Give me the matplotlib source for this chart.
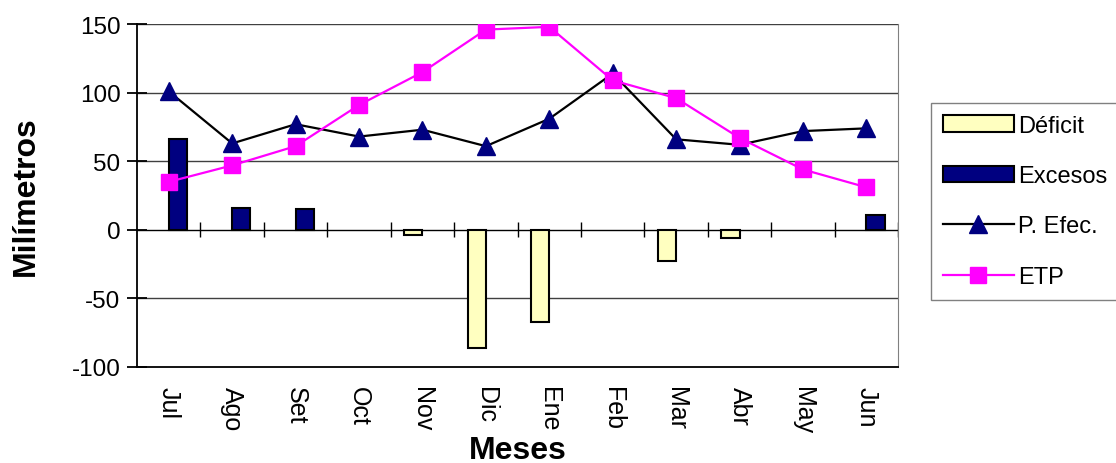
import matplotlib
matplotlib.use("Agg")
import matplotlib.pyplot as plt
import numpy as np

plt.rcParams['font.family'] = ['Liberation Sans', 'DejaVu Sans']
plt.rcParams['axes.unicode_minus'] = False

# data (None = no bar that month)
meses = ["Jul", "Ago", "Set", "Oct", "Nov", "Dic", "Ene", "Feb", "Mar", "Abr", "May", "Jun"]
deficit = [None, None, None, None, -4, -86, -67, None, -23, -6, None, None]
excesos = [66, 16, 15, None, None, None, None, None, None, None, None, 11]
p_efec = [101, 63, 77, 68, 73, 61, 81, 114, 66, 62, 72, 74]
etp = [35, 47, 61, 91, 115, 146, 148, 109, 96, 67, 44, 31]

x = np.arange(len(meses))
width = 1 / 3.5
deficit_v = np.array(deficit, dtype=float)
excesos_v = np.array(excesos, dtype=float)

fig = plt.figure(figsize=(11.16, 4.64), dpi=100)
ax = fig.add_axes([0.1228, 0.2069, 0.682, 0.739])

# grid lines
for v in [150, 100, 50, -50]:
    ax.axhline(v, color='#404040', lw=1, zorder=0)
ax.axhline(0, color='black', lw=1, zorder=1)

h_def = ax.bar(x - width / 2, deficit_v, width, color='#FFFFC0', edgecolor='black', lw=1.5,
               label='Déficit', zorder=2)
h_exc = ax.bar(x + width / 2, excesos_v, width, color='#000080', edgecolor='black', lw=1.5,
               label='Excesos', zorder=2)
h_pe, = ax.plot(x, p_efec, color='black', lw=1.6, marker='^', markersize=13,
                markerfacecolor='#000080', markeredgecolor='#000080', label='P. Efec.', zorder=3)
h_etp, = ax.plot(x, etp, color='#FF00FF', lw=1.6, marker='s', markersize=12,
                 markerfacecolor='#FF00FF', markeredgecolor='#FF00FF', label='ETP', zorder=4)

# category separators on the zero line
bounds = np.arange(len(meses) + 1) - 0.5
ax.vlines(bounds[1:], -5.5, 5.5, color='black', lw=1, zorder=1)

ax.set_xlim(-0.5, len(meses) - 0.5)
ax.set_ylim(-100, 150)
ax.set_yticks([-100, -50, 0, 50, 100, 150])
ax.tick_params(axis='y', direction='inout', length=14, width=1.3, labelsize=17.5, pad=5)
ax.set_xticks(x)
ax.set_xticklabels(meses, rotation=-90, fontsize=18)
ax.tick_params(axis='x', length=0, pad=14)

ax.spines['top'].set_visible(False)
ax.spines['right'].set_color('#808080')
ax.spines['left'].set_linewidth(1.3)
ax.spines['bottom'].set_linewidth(1.3)

ax.set_ylabel('Milímetros', fontsize=23, fontweight='bold', labelpad=22)
ax.set_xlabel('Meses', fontsize=23, fontweight='bold', labelpad=1)

fig.legend([h_def, h_exc, h_pe, h_etp], ['Déficit', 'Excesos', 'P. Efec.', 'ETP'],
           loc='upper left', bbox_to_anchor=(931 / 1116, 1 - 104 / 464), fontsize=17,
           frameon=True, fancybox=False, edgecolor='#606060', handlelength=3.0,
           labelspacing=1.2, handletextpad=0.2, borderpad=0.5, borderaxespad=0)

fig.savefig('out.png', dpi=100)
